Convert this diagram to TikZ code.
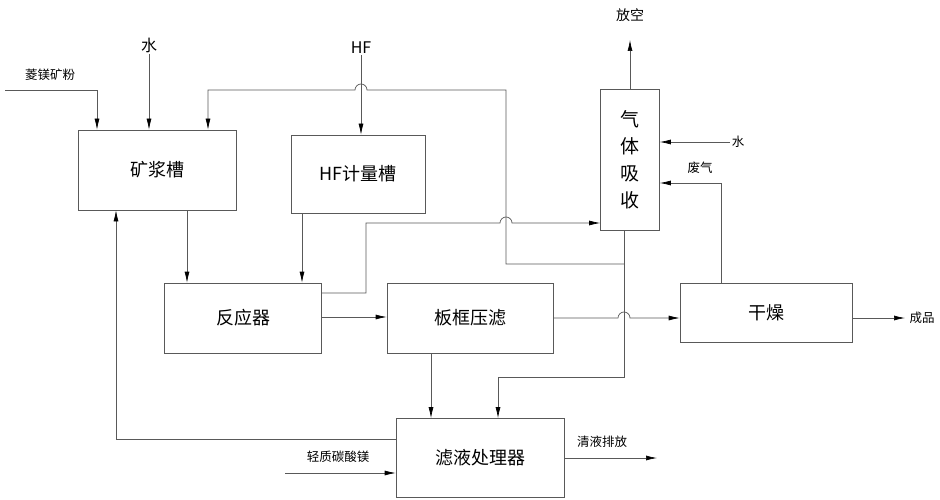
\documentclass[tikz,border=0pt]{standalone}
\usepackage{fontspec}
\newfontfamily\cjk{Noto Sans CJK SC}
\usetikzlibrary{arrows.meta}
\begin{document}
\begin{tikzpicture}[x=1pt,y=-1pt,
    box/.style={draw=gray!70!black,line width=0.7pt,minimum width=#1,font=\cjk\fontsize{18}{18}\selectfont,inner sep=0pt},
    lbl/.style={font=\cjk\fontsize{12.5}{12.5}\selectfont,inner sep=1pt},
    flow/.style={draw=gray!70!black,line width=0.7pt,-{Latex[length=11pt,width=5pt,color=black]}},
    pipe/.style={draw=gray!70!black,line width=0.7pt}]
\useasboundingbox (0,0) rectangle (940,500);
    %Equipos
    \node[box=158pt,minimum height=80pt] (slurry) at (157,170) {矿浆槽};
    \node[box=134pt,minimum height=78pt] (meter) at (358,174) {HF计量槽};
    \node[box=59pt,minimum height=141pt,align=center,font=\cjk\fontsize{19}{27}\selectfont] (absorb) at (630,160) {气\\体\\吸\\收};
    \node[box=157pt,minimum height=70pt] (reactor) at (243,318) {反应器};
    \node[box=166pt,minimum height=70pt] (press) at (470,318) {板框压滤};
    \node[box=172pt,minimum height=59pt] (dryer) at (766,313) {干燥};
    \node[box=168pt,minimum height=79pt] (filtrate) at (480,458) {滤液处理器};

    %Etiquetas
    \node[lbl] (ore) at (50,75) {菱镁矿粉};
    \node[lbl,font=\cjk\fontsize{16}{16}\selectfont] (water) at (149,45) {水};
    \node[lbl,font=\cjk\fontsize{16}{16}\selectfont] (hf) at (361,48) {HF};
    \node[lbl,font=\cjk\fontsize{14}{14}\selectfont] (vent) at (630,15) {放空};
    \node[lbl] (water2) at (738,142) {水};
    \node[lbl] (waste) at (700,168) {废气};
    \node[lbl] (product) at (922,318) {成品};
    \node[lbl] (carb) at (338,457) {轻质碳酸镁};
    \node[lbl] (clear) at (602,442) {清液排放};
    \coordinate (oreS) at (5,90);
    \coordinate (carbS) at (285,473);
    \coordinate (water2S) at (730,142);

    %Flujos
    \draw[flow] (oreS) -| (slurry.north -| 97,0);
    \draw[flow] (water.south) -- (slurry.north -| water.south);
    \draw[flow] (hf.south) -- (meter.north -| hf.south);
    \draw[flow] (slurry.south -| 187,0) -- (reactor.north -| 187,0);
    \draw[flow] (meter.south -| 302,0) -- (reactor.north -| 302,0);
    \draw[flow] (reactor.east |- 0,317) -- (press.west |- 0,317);
    \draw[flow] (reactor.east |- 0,293) -- (366,293) -- (366,223) -- (500,223)
        arc[start angle=180,end angle=360,radius=6] -- (absorb.west |- 0,223);
    \draw[flow] (press.east |- 0,318) -- (618,318)
        arc[start angle=180,end angle=360,radius=6] -- (dryer.west |- 0,318);
    \draw[flow] (press.south -| 431,0) -- (filtrate.north -| 431,0);
    \draw[flow] (absorb.south -| 624,0) -- (624,377) -- (498,377) -- (filtrate.north -| 498,0);
    \draw[flow] (624,264) -- (506,264) -- (506,90) -- (367,90)
        arc[start angle=360,end angle=180,radius=6] -- (208,90) -- (slurry.north -| 208,0);
    \draw[flow] (filtrate.west |- 0,439) -| (slurry.south -| 116,0);
    \draw[flow] (carbS) -- (filtrate.west |- carbS);
    \draw[flow] (filtrate.east |- 0,458) -- (657,458);
    \draw[flow] (dryer.north -| 721,0) |- (absorb.east |- 0,183);
    \draw[flow] (water2S) -- (absorb.east |- water2S);
    \draw[flow] (absorb.north) -- (vent.south |- 0,40);
    \draw[flow] (dryer.east |- 0,318) -- (905,318);
\end{tikzpicture}
\end{document}
